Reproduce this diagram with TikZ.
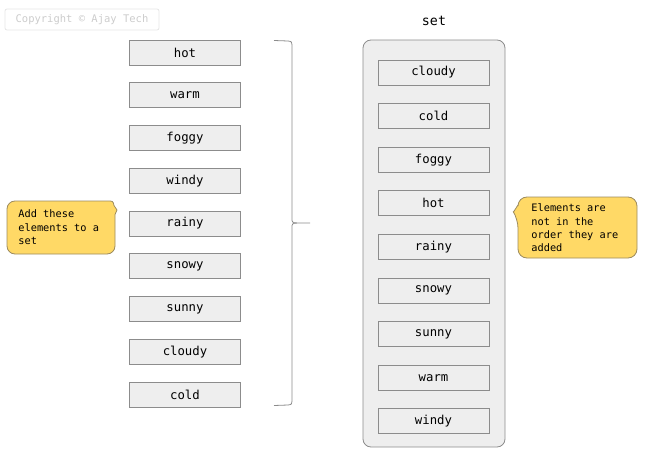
\documentclass[tikz,border=0pt]{standalone}
\usepackage{fontspec}
\setmonofont{DejaVu Sans Mono}
\usepackage{xcolor}
\definecolor{colorItem}{HTML}{EEEEEE}
\definecolor{colorBorder}{HTML}{8C8C8C}
\definecolor{colorNote}{HTML}{FFD966}
\definecolor{colorNoteBorder}{HTML}{9C8B5E}
\usetikzlibrary{positioning}
\tikzset{item/.style={draw=colorBorder, fill=colorItem, minimum width=111pt, minimum height=25pt, inner sep=0pt, font=\ttfamily\fontsize{12.3}{14}\selectfont}}
\tikzset{note/.style={align=left, inner sep=0pt, font=\ttfamily\fontsize{10.3}{13.3}\selectfont}}
\tikzset{notebg/.style={draw=colorNoteBorder, fill=colorNote}}

\begin{document}
\begin{tikzpicture}[x=1pt, y=-1pt, thick, node distance=16.95pt, line width=0.8pt]
\useasboundingbox (0,0) rectangle (649,455);
\node[draw=gray!20, text=gray!40, rounded corners=2pt, minimum width=154pt, minimum height=21pt, inner sep=0pt, font=\ttfamily\fontsize{10.5}{12}\selectfont] (copy) at (82,19.5) {Copyright © Ajay Tech};
\node[item] (lhot) at (185,52.5) {hot};
\node[item, below=of lhot] (lwarm) {warm};
\node[item, below=of lwarm] (lfoggy) {foggy};
\node[item, below=of lfoggy] (lwindy) {windy};
\node[item, below=of lwindy] (lrainy) {rainy};
\node[item, below=of lrainy] (lsnowy) {snowy};
\node[item, below=of lsnowy] (lsunny) {sunny};
\node[item, below=of lsunny] (lcloudy) {cloudy};
\node[item, below=of lcloudy] (lcold) {cold};
\draw[colorBorder] (274,40.5) -- (288,41) .. controls (291.5,41.5) .. (292,45) -- (292,218) .. controls (292,222.5) .. (297,223) -- (310,223);
\draw[colorBorder] (297,223) .. controls (292,223.5) .. (292,228) -- (292,401) .. controls (291.5,404.5) .. (288,405) -- (274,405.5);
\node[draw=colorBorder, fill=colorItem, rounded corners=8pt, minimum width=142pt, minimum height=407pt] (setbox) at (434,243.5) {};
\node[font=\ttfamily\fontsize{13.3}{15}\selectfont, anchor=base] (setlabel) at (434,25) {set};
\begin{scope}[node distance=17.8pt]
\node[item] (rcloudy) at (433.5,72.5) {cloudy};
\node[item, below=of rcloudy] (rcold) {cold};
\node[item, below=of rcold] (rfoggy) {foggy};
\node[item, below=of rfoggy] (rhot) {hot};
\node[item, below=of rhot] (rrainy) {rainy};
\node[item, below=of rrainy] (rsnowy) {snowy};
\node[item, below=of rsnowy] (rsunny) {sunny};
\node[item, below=of rsunny] (rwarm) {warm};
\node[item, below=of rwarm] (rwindy) {windy};
\end{scope}
\draw[notebg] (117,210) -- (115,214.5) [rounded corners=8pt] -- (115,254) -- (7,254) -- (7,201) [sharp corners] -- (107,201) .. controls (113,201) .. (114,205.5) -- cycle;
\node[note, anchor=north west] (addnote) at (18,209.5) {Add these\\elements to a\\set};
\draw[notebg] (513.5,212) -- (518,205) [rounded corners=9pt] -- (518,197) -- (637,197) -- (637,258) -- (518,258) -- (518,219) [sharp corners] -- cycle;
\node[note, anchor=north west] (ordernote) at (531,203.5) {Elements are\\not in the\\order they are\\added};
\end{tikzpicture}
\end{document}
